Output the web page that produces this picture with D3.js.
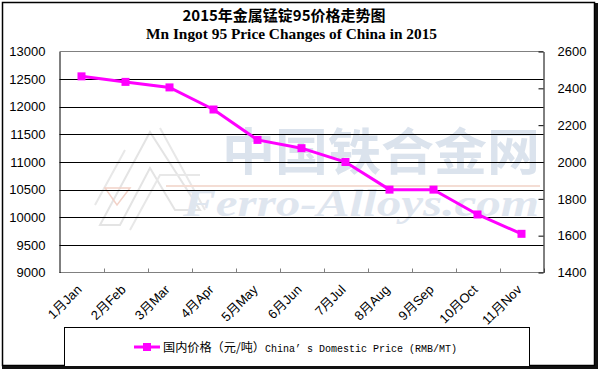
<!DOCTYPE html>
<html><head><meta charset="utf-8">
<script src="https://cdn.jsdelivr.net/npm/d3@7"></script>
<style>body{margin:0;background:#fff}svg{display:block}</style>
</head><body><svg id="c" width="600" height="371"></svg>
<script>
const months = ["1月Jan","2月Feb","3月Mar","4月Apr","5月May","6月Jun","7月Jul","8月Aug","9月Sep","10月Oct","11月Nov"];
const prices = [12550,12450,12350,11950,11400,11250,11000,10500,10500,10050,9700];
const leftTicks = [9000,9500,10000,10500,11000,11500,12000,12500,13000];
const rightTicks = [1400,1600,1800,2000,2200,2400,2600];
const titleCn = "2015年金属锰锭95价格走势图";
const titleEn = "Mn Ingot 95 Price Changes of China in 2015";
const legendCn = "国内价格（元/吨）";
const legendEn = "China’ s Domestic Price (RMB/MT)";

const svg = d3.select("#c");
const L = 59.5, R = 543.5, T = 51.5, B = 272.5;
const x = d3.scaleBand().domain(months).range([L, R]).padding(0);
const y = d3.scaleLinear().domain([9000, 13000]).range([B, T]);
const y2 = d3.scaleLinear().domain([1400, 2600]).range([B, T]);

svg.append("rect").attr("width",600).attr("height",371).attr("fill","#fff");
// frame shadow + frame
svg.append("rect").attr("x",5).attr("y",5).attr("width",593).attr("height",364).attr("fill","#222");
svg.append("rect").attr("x",2.5).attr("y",2.5).attr("width",592).attr("height",363).attr("fill","#fff").attr("stroke","#000").attr("stroke-width",1.5);

// watermark
const wm = svg.append("g");
wm.append("path").attr("d","M150,132 L100,225 L120,225 L150,168 L175,210 L200,210 Z").attr("fill","none").attr("stroke","#e4e4e4").attr("stroke-width",2);
wm.append("path").attr("d","M125,150 L95,205 M160,128 L205,210 M130,230 L160,175 L200,175").attr("fill","none").attr("stroke","#e8e8e8").attr("stroke-width",2);
wm.append("path").attr("d","M105,188 L130,188 L117,205 Z").attr("fill","none").attr("stroke","#f2d2c8").attr("stroke-width",1.5);
wm.append("line").attr("x1",166).attr("x2",540).attr("y1",186).attr("y2",186).attr("stroke","#f4ddd4").attr("stroke-width",2);
wm.append("text").attr("x",222).attr("y",170).attr("font-family","Noto Sans CJK SC").attr("font-weight","bold").attr("font-size",50).attr("fill","#dbe3ed").attr("textLength",318).attr("lengthAdjust","spacingAndGlyphs").text("中国铁合金网");
wm.append("text").attr("x",183).attr("y",216).attr("font-family","Liberation Serif").attr("font-style","italic").attr("font-weight","bold").attr("font-size",38).attr("fill","#dfe6ef").attr("textLength",356).attr("lengthAdjust","spacingAndGlyphs").text("Ferro-Alloys.com");

// gridlines
svg.append("g").selectAll("line").data(leftTicks.filter(d=>d>9000 && d<13000)).join("line")
  .attr("x1",L).attr("x2",R).attr("y1",d=>Math.round(y(d))+0.5).attr("y2",d=>Math.round(y(d))+0.5)
  .attr("stroke","#000").attr("stroke-width",1);
// top border, bottom axis
svg.append("line").attr("x1",L).attr("x2",R).attr("y1",T).attr("y2",T).attr("stroke","#808080");
svg.append("line").attr("x1",L).attr("x2",R).attr("y1",B).attr("y2",B).attr("stroke","#808080");
const edges = months.slice(1).map(m=>x(m)).concat([R]);
svg.append("g").selectAll("line").data(edges).join("line")
  .attr("x1",d=>Math.round(d)+0.5).attr("x2",d=>Math.round(d)+0.5).attr("y1",B).attr("y2",B-4).attr("stroke","#808080");

// left axis
const la = svg.append("g").attr("transform",`translate(${L},0)`)
  .call(d3.axisLeft(y).tickValues(leftTicks).tickSize(0).tickPadding(14).tickFormat(d3.format("d")));
la.select(".domain").attr("stroke","#000");
la.selectAll("text").attr("font-family","Liberation Sans, Arial").attr("font-size",13).attr("fill","#000");
// right axis
const ra = svg.append("g").attr("transform",`translate(${R},0)`)
  .call(d3.axisRight(y2).tickValues(rightTicks).tickSizeInner(-5).tickSizeOuter(0).tickPadding(14).tickFormat(d3.format("d")));
ra.select(".domain").attr("stroke","#000");
ra.selectAll("line").attr("stroke","#000");
ra.selectAll("text").attr("font-family","Liberation Sans, Arial").attr("font-size",13).attr("fill","#000");

// x labels
svg.append("g").selectAll("text").data(months).join("text")
  .attr("transform",d=>`translate(${x(d)+x.bandwidth()/2+1},${B+18}) rotate(-45)`)
  .attr("text-anchor","end").attr("font-family","Liberation Sans, Arial, Noto Sans CJK SC").attr("font-size",13).text(d=>d);

// line
const cx = d => x(d)+x.bandwidth()/2;
svg.append("path").datum(prices.map((v,i)=>[months[i],v]))
  .attr("d",d3.line().x(d=>cx(d[0])).y(d=>y(d[1])))
  .attr("fill","none").attr("stroke","#ff00ff").attr("stroke-width",3);
svg.append("g").selectAll("rect").data(prices.map((v,i)=>[months[i],v])).join("rect")
  .attr("x",d=>cx(d[0])-4).attr("y",d=>y(d[1])-4).attr("width",8).attr("height",8).attr("fill","#ff00ff");

// titles
svg.append("text").attr("x",284).attr("y",21).attr("text-anchor","middle").attr("font-family","Noto Sans CJK SC").attr("font-weight","bold").attr("font-size",15).text(titleCn);
svg.append("text").attr("x",146).attr("y",39).attr("font-family","Liberation Serif").attr("font-weight","bold").attr("font-size",14).attr("textLength",291).attr("lengthAdjust","spacingAndGlyphs").text(titleEn);

// legend
svg.append("rect").attr("x",64.5).attr("y",327.5).attr("width",465).attr("height",40).attr("fill","#fff").attr("stroke","#000");
svg.append("line").attr("x1",134).attr("x2",160).attr("y1",347).attr("y2",347).attr("stroke","#ff00ff").attr("stroke-width",3);
svg.append("rect").attr("x",143).attr("y",343).attr("width",8).attr("height",8).attr("fill","#ff00ff");
const lt = svg.append("text").attr("x",163).attr("y",351.5).attr("font-size",12);
lt.append("tspan").attr("font-family","Noto Sans CJK SC").attr("textLength",102).attr("lengthAdjust","spacingAndGlyphs").text(legendCn);
lt.append("tspan").attr("font-family","Liberation Mono").attr("font-size",10).text(legendEn);

// redraw frame bottom/right over legend
svg.append("rect").attr("x",2).attr("y",366).attr("width",596).attr("height",3).attr("fill","#111");
svg.append("rect").attr("x",595).attr("y",3).attr("width",3).attr("height",366).attr("fill","#111");
</script></body></html>
